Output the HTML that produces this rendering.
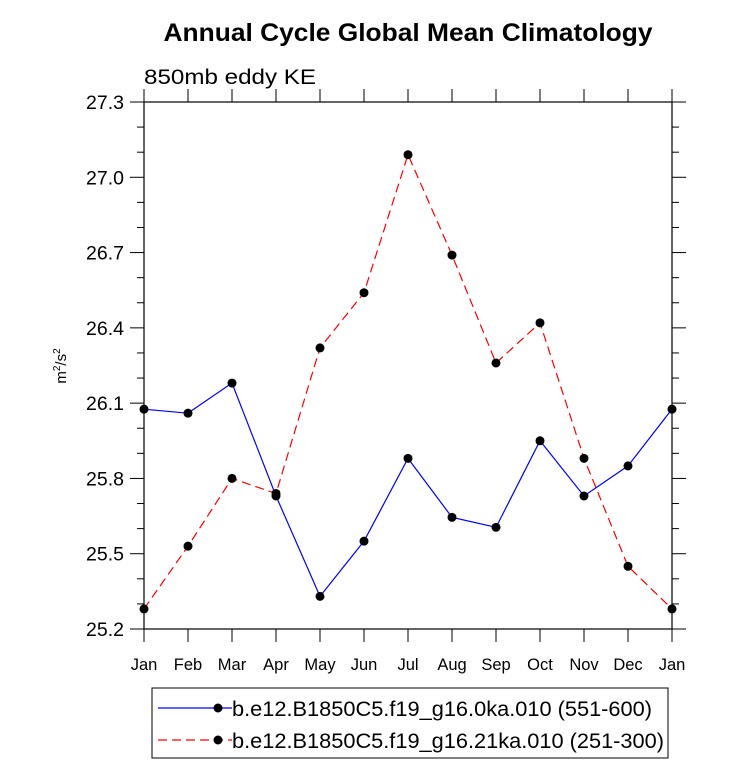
<!DOCTYPE html>
<html><head><meta charset="utf-8"><style>
body{margin:0;background:#fff;}
text{font-family:"Liberation Sans",sans-serif;}
</style></head><body>
<svg width="733" height="766" xmlns="http://www.w3.org/2000/svg">
<text x="408" y="41" font-size="25" font-weight="bold" text-anchor="middle" textLength="489" lengthAdjust="spacingAndGlyphs">Annual Cycle Global Mean Climatology</text>
<text x="144" y="84" font-size="21" textLength="172" lengthAdjust="spacingAndGlyphs">850mb eddy KE</text>
<text transform="translate(66,366) rotate(-90)" font-size="15" text-anchor="middle">m<tspan font-size="10" dy="-6">2</tspan><tspan dy="6">/s</tspan><tspan font-size="10" dy="-6">2</tspan></text>
<g id="axes"></g>
<g id="series"></g>
<rect x="152" y="688" width="516" height="70" fill="none" stroke="#000" stroke-width="1"/>
<g>
<line x1="158" y1="708" x2="232" y2="708" stroke="#00f" stroke-width="1.2"/>
<circle cx="218" cy="708" r="4.5" fill="#000"/>
<text x="232" y="716" font-size="21" textLength="420" lengthAdjust="spacingAndGlyphs">b.e12.B1850C5.f19_g16.0ka.010 (551-600)</text>
</g>
<g>
<line x1="158" y1="740" x2="232" y2="740" stroke="#f00" stroke-width="1.2" stroke-dasharray="9,5"/>
<circle cx="218" cy="740" r="4.5" fill="#000"/>
<text x="232" y="748" font-size="21" textLength="432" lengthAdjust="spacingAndGlyphs">b.e12.B1850C5.f19_g16.21ka.010 (251-300)</text>
</g>
</svg>
<script>
const months=["Jan","Feb","Mar","Apr","May","Jun","Jul","Aug","Sep","Oct","Nov","Dec","Jan"];
const blueValues=[26.076,26.06,26.18,25.73,25.33,25.55,25.88,25.645,25.605,25.95,25.73,25.85,26.076];
const redValues=[25.28,25.53,25.8,25.74,26.32,26.54,27.09,26.69,26.26,26.42,25.88,25.45,25.28];
const yTicks=["25.2","25.5","25.8","26.1","26.4","26.7","27.0","27.3"];
const L=144,R=672,T=102,B=629,ymin=25.2,ymax=27.3;
const xs=i=>L+i*44;
const ys=v=>B-(v-ymin)/(ymax-ymin)*(B-T);
const NS="http://www.w3.org/2000/svg";
function mk(tag,attrs,parent){const e=document.createElementNS(NS,tag);for(const k in attrs)e.setAttribute(k,attrs[k]);parent.appendChild(e);return e;}
const ax=document.getElementById('axes');
const frame=mk('rect',{x:L,y:T,width:R-L,height:B-T,fill:'none',stroke:'#000','stroke-width':1.2},ax);


for(let k=0;k<=21;k++){
  const y=ys(ymin+k*0.1);const major=k%3===0;
  const len=major?14:7;
  mk('line',{x1:L-len,y1:y,x2:L,y2:y,stroke:'#000','stroke-width':1},ax);
  mk('line',{x1:R,y1:y,x2:R+len,y2:y,stroke:'#000','stroke-width':1},ax);
}
yTicks.forEach(t=>{
  const el=mk('text',{x:L-20,y:ys(parseFloat(t))+7,'font-size':19.5,'text-anchor':'end'},ax);
  el.textContent=t;
  
  
});
months.forEach((m,i)=>{
  const x=xs(i);
  mk('line',{x1:x,y1:B,x2:x,y2:B+13,stroke:'#000','stroke-width':1},ax);
  mk('line',{x1:x,y1:T,x2:x,y2:T-13,stroke:'#000','stroke-width':1},ax);
  const el=mk('text',{x:x,y:B+41,'font-size':16.5,'text-anchor':'middle'},ax);
  el.textContent=m;
  
  
});
const sg=document.getElementById('series');
function drawSeries(vals,color,dash,name){
  const g=mk('g',{},sg);
  
  
  const pts=vals.map((v,i)=>xs(i)+','+ys(v)).join(' ');
  const a={points:pts,fill:'none',stroke:color,'stroke-width':1.2};
  if(dash)a['stroke-dasharray']=dash;
  mk('polyline',a,g);
  vals.forEach((v,i)=>{
    const c=mk('circle',{cx:xs(i),cy:ys(v),r:4.5,fill:'#000'},g);
    
    
  });
}
drawSeries(blueValues,'#00f',null,'series-0ka');
drawSeries(redValues,'#f00','9,5','series-21ka');
</script>
</body></html>
